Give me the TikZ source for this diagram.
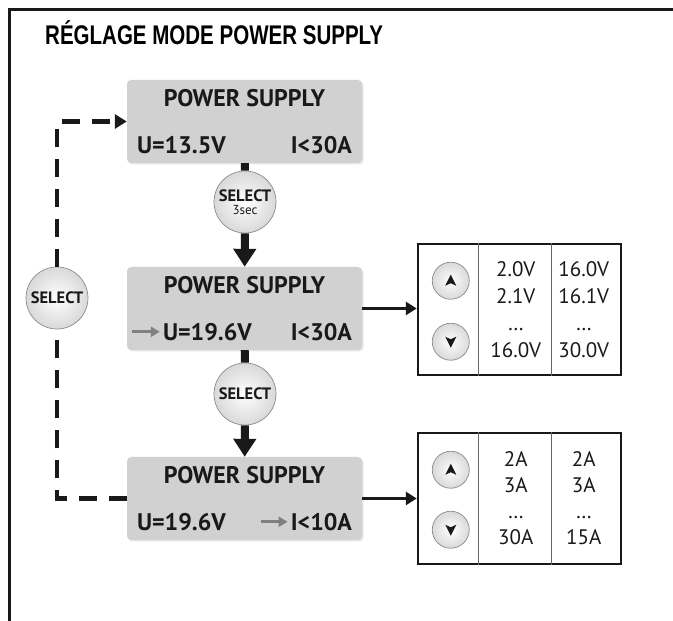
\documentclass[tikz,border=0pt]{standalone}
\usepackage{fontspec}
\setmainfont{PT Sans}
\newfontfamily\titlefont[FakeStretch=0.76]{Liberation Sans}
\usetikzlibrary{arrows.meta,shadows}

\begin{document}
\begin{tikzpicture}[x=1pt, y=1pt,
  lcd/.style={rounded corners=4pt, fill=black!18, minimum width=235pt,
    minimum height=83pt, inner sep=0pt,
    drop shadow={shadow xshift=1.5pt, shadow yshift=-1.5pt, opacity=0.2}},
  lcdtxt/.style={font=\bfseries\fontsize{24}{24}\selectfont, text=black!90, inner sep=0pt},
  selbtn/.style={circle, draw=black!45, line width=0.7pt, inner color=white,
    outer color=black!15, minimum size=62pt, inner sep=0pt, text=black!90,
    font=\bfseries\fontsize{16.5}{16.5}\selectfont},
  updn/.style={circle, draw=black!45, line width=0.7pt, inner color=white,
    outer color=black!15, minimum size=37pt, inner sep=0pt},
  tab/.style={draw=black!90, line width=2.5pt, minimum width=203pt, minimum height=131pt, inner sep=0pt},
  tabtxt/.style={font=\fontsize{21}{21}\selectfont, text=black!90, inner sep=0pt},
  stem/.style={line width=8pt, draw=black!90},
  feed/.style={line width=3pt, draw=black!90, -{Triangle[width=13pt,length=11pt]}},
  back/.style={line width=4.5pt, draw=black!90, dash pattern=on 18pt off 12pt},
  ptr/.style={line width=3pt, draw=black!50, -{Triangle[width=10pt,length=9pt]}}]
  \useasboundingbox (0,0) rectangle (673,621);
  %% frame and title
  \draw[line width=2.5pt, black!90] (9.5,0) -- (9.5,611.5) -- (673,611.5);
  \node[anchor=base west, inner sep=0pt, font=\titlefont\bfseries\fontsize{27}{27}\selectfont]
    (title) at (45,576) {RÉGLAGE MODE POWER SUPPLY};

  %% the three displays
  \node[lcd] (ps1) at (244.5,499.5) {};
  \node[lcd] (ps2) at (244.5,312.5) {};
  \node[lcd] (ps3) at (244.5,122.5) {};

  \node[lcdtxt, anchor=base] (n1) at ([yshift=-27pt]ps1.north) {POWER SUPPLY};
  \node[lcdtxt, anchor=base west] (u1) at ([xshift=10pt, yshift=10pt]ps1.south west) {U=13.5V};
  \node[lcdtxt, anchor=base east] (i1) at ([xshift=-10pt, yshift=10pt]ps1.south east) {I<30A};

  \node[lcdtxt, anchor=base] (n2) at ([yshift=-27pt]ps2.north) {POWER SUPPLY};
  \node[lcdtxt, anchor=base west] (u2) at ([xshift=36pt, yshift=10pt]ps2.south west) {U=19.6V};
  \node[lcdtxt, anchor=base east] (i2) at ([xshift=-10pt, yshift=10pt]ps2.south east) {I<30A};
  \coordinate (g2) at ([xshift=-31pt]u2.west);
  \draw[ptr] (g2) -- ([xshift=-3pt]u2.west);

  \node[lcdtxt, anchor=base] (n3) at ([yshift=-27pt]ps3.north) {POWER SUPPLY};
  \node[lcdtxt, anchor=base west] (u3) at ([xshift=10pt, yshift=10pt]ps3.south west) {U=19.6V};
  \node[lcdtxt, anchor=base east] (i3) at ([xshift=-10pt, yshift=10pt]ps3.south east) {I<10A};
  \coordinate (g3) at ([xshift=-30pt]i3.west);
  \draw[ptr] (g3) -- ([xshift=-3pt]i3.west);

  %% select buttons
  \node[selbtn, align=center] (sel1) at (245,419)
    {SELECT\\[-4pt]{\mdseries\fontsize{13}{13}\selectfont 3sec}};
  \node[selbtn] (sel2) at (245,227) {SELECT};
  \node[selbtn] (sel0) at (57,323) {SELECT};

  \draw[stem] (ps1) -- (sel1);
  \draw[stem, -{Triangle[width=22pt,length=18pt]}] (sel1) -- (ps2);
  \draw[stem] (ps2) -- (sel2);
  \draw[stem, -{Triangle[width=22pt,length=18pt]}] (sel2) -- (ps3);

  %% way back to the first display
  \draw[back] (ps3.west) -| (sel0.south);
  \draw[back, -{Triangle[width=14pt,length=12pt]}] (sel0.north) |- (ps1.west);

  %% voltage table
  \node[tab] (vt) at (519.5,311.5) {};
  \draw[line width=1pt, black!60] ([xshift=62pt]vt.north west) -- ([xshift=62pt]vt.south west);
  \draw[line width=1pt, black!60] ([xshift=135pt]vt.north west) -- ([xshift=135pt]vt.south west);
  \node[updn] (vup) at ([xshift=34pt, yshift=-38pt]vt.north west) {};
  \node[updn] (vdn) at ([xshift=34pt, yshift=-99pt]vt.north west) {};
  \fill[black!90] ([yshift=6pt]vup.center) -- ++(5.5,-11) -- ++(-5.5,2.5) -- ++(-5.5,-2.5) -- cycle;
  \fill[black!90] ([yshift=-6pt]vdn.center) -- ++(5.5,11) -- ++(-5.5,-2.5) -- ++(-5.5,2.5) -- cycle;
  \foreach \a/\b [count=\i from 0] in {2.0V/16.0V, 2.1V/16.1V, \ldots/\ldots, 16.0V/30.0V} {
    \node[tabtxt, anchor=base] at ([xshift=99pt, yshift={-34pt-27pt*\i}]vt.north west) {\a};
    \node[tabtxt, anchor=base] at ([xshift=167pt, yshift={-34pt-27pt*\i}]vt.north west) {\b};
  }
  \draw[feed] (ps2.east) -- (ps2.east -| vt.west);

  %% current table
  \node[tab] (it) at (519.5,122.5) {};
  \draw[line width=1pt, black!60] ([xshift=62pt]it.north west) -- ([xshift=62pt]it.south west);
  \draw[line width=1pt, black!60] ([xshift=135pt]it.north west) -- ([xshift=135pt]it.south west);
  \node[updn] (iup) at ([xshift=34pt, yshift=-38pt]it.north west) {};
  \node[updn] (idn) at ([xshift=34pt, yshift=-98pt]it.north west) {};
  \fill[black!90] ([yshift=6pt]iup.center) -- ++(5.5,-11) -- ++(-5.5,2.5) -- ++(-5.5,-2.5) -- cycle;
  \fill[black!90] ([yshift=-6pt]idn.center) -- ++(5.5,11) -- ++(-5.5,-2.5) -- ++(-5.5,2.5) -- cycle;
  \foreach \a/\b [count=\i from 0] in {2A/2A, 3A/3A, \ldots/\ldots, 30A/15A} {
    \node[tabtxt, anchor=base] at ([xshift=99pt, yshift={-35pt-26pt*\i}]it.north west) {\a};
    \node[tabtxt, anchor=base] at ([xshift=167pt, yshift={-35pt-26pt*\i}]it.north west) {\b};
  }
  \draw[feed] (ps3.east) -- (ps3.east -| it.west);
\end{tikzpicture}
\end{document}
